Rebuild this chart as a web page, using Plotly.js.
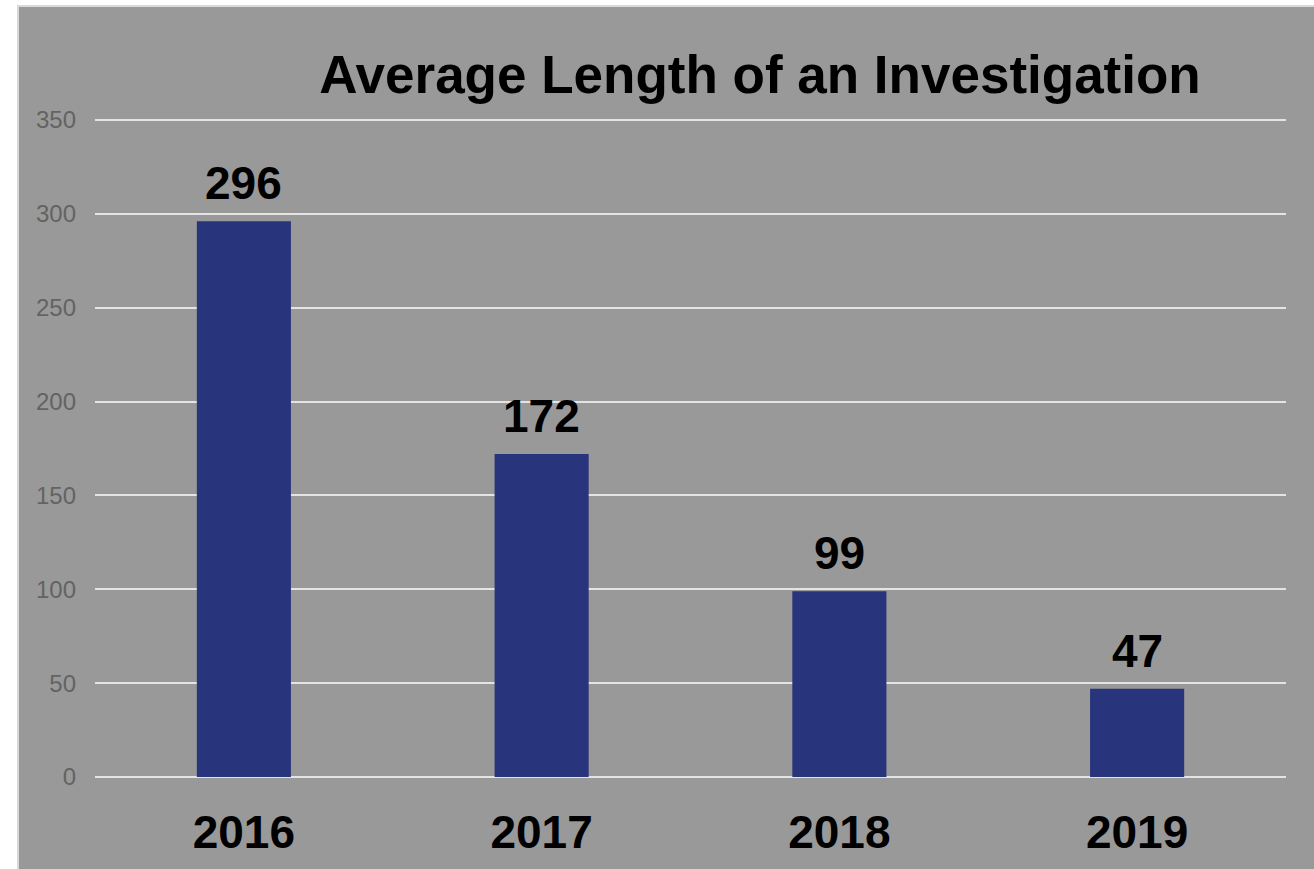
<!DOCTYPE html>
<html>
<head>
<meta charset="utf-8">
<script src="https://cdn.plot.ly/plotly-3.0.1.min.js"></script>
<style>
  html, body { margin: 0; padding: 0; background: #ffffff; width: 1314px; height: 869px; overflow: hidden; }
  #frame { position: absolute; left: 17px; top: 5px; width: 1297px; height: 864px;
           border-left: 2px solid #d9d9d9; border-top: 2px solid #d9d9d9; box-sizing: border-box; background: #999999; }
  #chart { position: absolute; left: 0; top: 0; width: 1295px; height: 862px; }
</style>
</head>
<body>
<div id="frame"><div id="chart"></div></div>
<script>
const years = ['2016', '2017', '2018', '2019'];
const avgDays = [296, 172, 99, 47];
const yTicks = [0, 50, 100, 150, 200, 250, 300, 350];

const trace = {
  type: 'bar',
  x: years,
  y: avgDays,
  marker: { color: '#28347b' },
  hoverinfo: 'x+y'
};

const annotations = years.map((yr, i) => ({
  x: i, y: avgDays[i], xref: 'x', yref: 'y',
  text: String(avgDays[i]), showarrow: false,
  yanchor: 'bottom', yshift: 10,
  font: { family: 'Liberation Sans, Arial, sans-serif', size: 46, color: '#000000', weight: 'bold' }
}));

const layout = {
  width: 1295, height: 862,
  paper_bgcolor: '#999999', plot_bgcolor: '#999999',
  margin: { l: 76, r: 28, t: 111, b: 92 },
  bargap: 0.684,
  showlegend: false,
  title: {
    text: '<b>Average Length of an Investigation</b>',
    font: { family: 'Liberation Sans, Arial, sans-serif', size: 53, color: '#000000' },
    x: 741 / 1295, xref: 'container', xanchor: 'center',
    y: 1 - 67 / 862, yref: 'container', yanchor: 'middle'
  },
  xaxis: {
    type: 'category',
    range: [-0.5, 3.5],
    showgrid: false, zeroline: false, showline: false, ticks: '',
    tickfont: { family: 'Liberation Sans, Arial, sans-serif', size: 46, color: '#000000', weight: 'bold' },
    ticklabelstandoff: 24
  },
  yaxis: {
    range: [0, 351],
    tickvals: yTicks,
    ticktext: yTicks.map(String),
    showgrid: true, gridcolor: '#e4e4e4', gridwidth: 2,
    zeroline: true, zerolinecolor: '#e4e4e4', zerolinewidth: 2,
    showline: false, ticks: '',
    tickfont: { family: 'Liberation Sans, Arial, sans-serif', size: 24, color: '#636363' },
    ticklabelstandoff: 18
  },
  annotations: annotations
};

Plotly.newPlot('chart', [trace], layout, { displayModeBar: false, staticPlot: true });
</script>
</body>
</html>
